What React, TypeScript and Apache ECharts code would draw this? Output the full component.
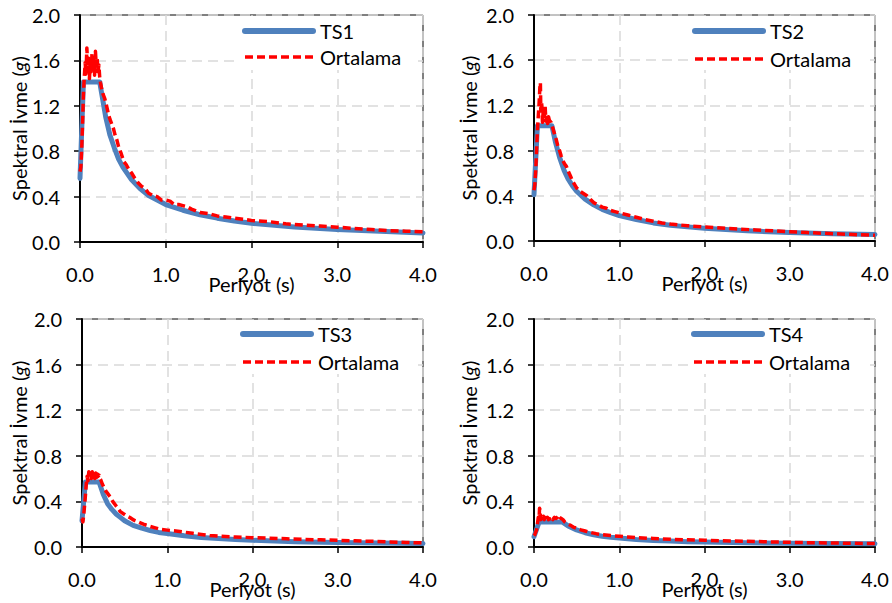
import React, { useEffect, useRef } from "react";
import * as echarts from "echarts";

// ---------- data ----------
const xAxisTitle = "Periyot (s)";
const yAxisTitleParts = ["Spektral İvme (", "g", ")"];
const meanName = "Ortalama";
const targetNames = ["TS1", "TS2", "TS3", "TS4"];

// TS1 target spectrum
const ts1T = [0, 0.04, 0.23, 0.25, 0.3, 0.35, 0.4, 0.45, 0.5, 0.6, 0.7, 0.8, 0.9, 1.0, 1.2, 1.4, 1.6, 1.8, 2.0, 2.5, 3.0, 3.5, 4.0];
const ts1Sa = [0.56, 1.41, 1.41, 1.32, 1.1, 0.94, 0.83, 0.73, 0.66, 0.55, 0.47, 0.41, 0.37, 0.33, 0.28, 0.24, 0.21, 0.185, 0.165, 0.132, 0.11, 0.094, 0.08];
// TS1 mean
const m1T = [0, 0.01, 0.02, 0.03, 0.04, 0.05, 0.06, 0.07, 0.08, 0.09, 0.1, 0.11, 0.12, 0.13, 0.14, 0.15, 0.16, 0.17, 0.18, 0.19, 0.2, 0.21, 0.22, 0.23, 0.24, 0.25, 0.27, 0.29, 0.31, 0.33, 0.35, 0.37, 0.39, 0.41, 0.43, 0.45, 0.48, 0.51, 0.54, 0.57, 0.6, 0.64, 0.68, 0.72, 0.76, 0.8, 0.85, 0.9, 0.95, 1.0, 1.05, 1.1, 1.15, 1.2, 1.25, 1.3, 1.4, 1.5, 1.6, 1.7, 1.8, 1.9, 2.0, 2.2, 2.4, 2.6, 2.8, 3.0, 3.2, 3.4, 3.6, 3.8, 4.0];
const m1Sa = [0.62, 0.66, 0.82, 1.05, 1.3, 1.45, 1.58, 1.48, 1.71, 1.55, 1.62, 1.44, 1.58, 1.5, 1.66, 1.52, 1.6, 1.47, 1.68, 1.55, 1.62, 1.5, 1.56, 1.45, 1.4, 1.36, 1.3, 1.26, 1.2, 1.13, 1.08, 1.04, 1.0, 0.94, 0.9, 0.84, 0.78, 0.71, 0.68, 0.64, 0.61, 0.56, 0.52, 0.49, 0.47, 0.43, 0.41, 0.4, 0.37, 0.37, 0.36, 0.33, 0.33, 0.32, 0.31, 0.29, 0.26, 0.25, 0.23, 0.22, 0.21, 0.2, 0.19, 0.18, 0.16, 0.15, 0.14, 0.13, 0.12, 0.11, 0.1, 0.095, 0.09];

// TS2 target spectrum
const ts2T = [0, 0.04, 0.21, 0.25, 0.3, 0.35, 0.4, 0.45, 0.5, 0.6, 0.7, 0.8, 0.9, 1.0, 1.2, 1.4, 1.6, 1.8, 2.0, 2.5, 3.0, 3.5, 4.0];
const ts2Sa = [0.41, 1.02, 1.02, 0.88, 0.74, 0.63, 0.55, 0.49, 0.44, 0.37, 0.32, 0.28, 0.25, 0.225, 0.19, 0.16, 0.14, 0.125, 0.113, 0.09, 0.075, 0.065, 0.058];
// TS2 mean
const m2T = [0, 0.01, 0.02, 0.03, 0.04, 0.05, 0.06, 0.07, 0.075, 0.08, 0.09, 0.1, 0.11, 0.12, 0.13, 0.14, 0.15, 0.16, 0.17, 0.18, 0.19, 0.2, 0.22, 0.24, 0.26, 0.28, 0.3, 0.32, 0.34, 0.36, 0.38, 0.4, 0.43, 0.46, 0.5, 0.54, 0.58, 0.62, 0.66, 0.7, 0.75, 0.8, 0.85, 0.9, 0.95, 1.0, 1.1, 1.2, 1.3, 1.4, 1.5, 1.6, 1.8, 2.0, 2.2, 2.4, 2.6, 2.8, 3.0, 3.2, 3.4, 3.6, 3.8, 4.0];
const m2Sa = [0.45, 0.5, 0.62, 0.8, 0.98, 1.1, 1.22, 1.38, 1.4, 1.15, 1.22, 1.05, 1.18, 1.08, 1.2, 1.06, 1.12, 1.04, 1.1, 1.07, 1.06, 1.05, 1.0, 0.95, 0.9, 0.84, 0.8, 0.75, 0.71, 0.68, 0.66, 0.62, 0.57, 0.52, 0.47, 0.44, 0.42, 0.4, 0.37, 0.34, 0.32, 0.3, 0.29, 0.27, 0.26, 0.25, 0.23, 0.21, 0.19, 0.175, 0.16, 0.15, 0.135, 0.125, 0.115, 0.105, 0.098, 0.09, 0.082, 0.075, 0.068, 0.062, 0.056, 0.05];

// TS3 target spectrum
const ts3T = [0, 0.04, 0.2, 0.25, 0.3, 0.35, 0.4, 0.45, 0.5, 0.6, 0.7, 0.8, 0.9, 1.0, 1.2, 1.4, 1.6, 1.8, 2.0, 2.5, 3.0, 3.5, 4.0];
const ts3Sa = [0.23, 0.57, 0.57, 0.46, 0.38, 0.33, 0.29, 0.26, 0.23, 0.19, 0.165, 0.145, 0.128, 0.118, 0.098, 0.084, 0.074, 0.066, 0.059, 0.047, 0.04, 0.034, 0.03];
// TS3 mean
const m3T = [0, 0.01, 0.02, 0.03, 0.04, 0.05, 0.06, 0.07, 0.08, 0.09, 0.1, 0.11, 0.12, 0.13, 0.14, 0.15, 0.16, 0.17, 0.18, 0.19, 0.2, 0.21, 0.22, 0.24, 0.26, 0.28, 0.3, 0.33, 0.36, 0.39, 0.42, 0.45, 0.49, 0.53, 0.57, 0.61, 0.66, 0.72, 0.78, 0.85, 0.92, 1.0, 1.1, 1.2, 1.3, 1.4, 1.5, 1.6, 1.8, 2.0, 2.2, 2.4, 2.6, 2.8, 3.0, 3.2, 3.4, 3.6, 3.8, 4.0];
const m3Sa = [0.25, 0.22, 0.28, 0.36, 0.45, 0.55, 0.62, 0.58, 0.66, 0.61, 0.65, 0.6, 0.66, 0.62, 0.64, 0.6, 0.65, 0.61, 0.64, 0.62, 0.63, 0.6, 0.59, 0.55, 0.52, 0.49, 0.47, 0.44, 0.4, 0.37, 0.34, 0.31, 0.29, 0.27, 0.255, 0.235, 0.22, 0.2, 0.185, 0.17, 0.155, 0.148, 0.14, 0.13, 0.12, 0.11, 0.1, 0.095, 0.088, 0.082, 0.077, 0.072, 0.067, 0.063, 0.059, 0.054, 0.05, 0.045, 0.04, 0.036];

// TS4 target spectrum
const ts4T = [0, 0.06, 0.33, 0.4, 0.5, 0.6, 0.7, 0.8, 0.9, 1.0, 1.2, 1.4, 1.6, 1.8, 2.0, 2.5, 3.0, 3.5, 4.0];
const ts4Sa = [0.09, 0.22, 0.22, 0.185, 0.15, 0.125, 0.108, 0.095, 0.085, 0.078, 0.066, 0.058, 0.052, 0.047, 0.043, 0.037, 0.033, 0.03, 0.028];
// TS4 mean
const m4T = [0, 0.01, 0.02, 0.03, 0.04, 0.05, 0.06, 0.065, 0.07, 0.075, 0.08, 0.09, 0.1, 0.11, 0.12, 0.13, 0.14, 0.15, 0.16, 0.17, 0.18, 0.19, 0.2, 0.22, 0.24, 0.26, 0.28, 0.29, 0.3, 0.32, 0.34, 0.36, 0.38, 0.4, 0.43, 0.46, 0.5, 0.55, 0.6, 0.66, 0.73, 0.8, 0.9, 1.0, 1.1, 1.2, 1.4, 1.6, 1.8, 2.0, 2.3, 2.6, 3.0, 3.3, 3.6, 4.0];
const m4Sa = [0.1, 0.11, 0.13, 0.15, 0.2, 0.26, 0.25, 0.34, 0.33, 0.26, 0.24, 0.26, 0.25, 0.27, 0.24, 0.26, 0.25, 0.23, 0.26, 0.24, 0.25, 0.23, 0.25, 0.24, 0.26, 0.25, 0.27, 0.28, 0.26, 0.25, 0.24, 0.22, 0.21, 0.2, 0.19, 0.175, 0.165, 0.15, 0.14, 0.128, 0.117, 0.108, 0.1, 0.094, 0.088, 0.082, 0.075, 0.068, 0.063, 0.059, 0.053, 0.048, 0.041, 0.037, 0.034, 0.03];

const targetsT = [ts1T, ts2T, ts3T, ts4T];
const targetsSa = [ts1Sa, ts2Sa, ts3Sa, ts4Sa];
const meansT = [m1T, m2T, m3T, m4T];
const meansSa = [m1Sa, m2Sa, m3Sa, m4Sa];

// ---------- layout ----------
const FONT = "Lato";
const FS = 20;
const BLUE = "#4F81BD";
const RED = "#FF0000";

const grids = [
  { left: 80, top: 15, width: 343, height: 227 },
  { left: 534, top: 15, width: 341, height: 226 },
  { left: 82, top: 319, width: 341, height: 228 },
  { left: 534, top: 319, width: 341, height: 228 },
];
const yNameGaps = [51, 55, 53, 55];
// legend: line start x, row1 y, row2 y, background left/top
const legendLayout = [
  { x: 245, y1: 31, y2: 57, bx: 240, by: 16 },
  { x: 695, y1: 31, y2: 59, bx: 691, by: 16 },
  { x: 243, y1: 334, y2: 362, bx: 239, by: 320 },
  { x: 694, y1: 334, y2: 362, bx: 690, by: 320 },
];

const zip = (a: number[], b: number[]) => a.map((v, i) => [v, b[i]]);

export default function App() {
  const ref = useRef<HTMLDivElement>(null);
  useEffect(() => {
    document.body.style.margin = "0";
    const chart = echarts.init(ref.current!, null, { renderer: "svg" });
    const textBase = { fontFamily: FONT, fontSize: FS, color: "#000" };

    const legendGraphics: any[] = [];
    legendLayout.forEach((L, i) => {
      legendGraphics.push({
        type: "rect",
        shape: { x: L.bx, y: L.by, width: 178, height: 54 },
        style: { fill: "#fff" },
        z: 10,
      });
      legendGraphics.push({
        type: "line",
        shape: { x1: L.x, y1: L.y1, x2: L.x + 68, y2: L.y1 },
        style: { stroke: BLUE, lineWidth: 6, lineCap: "round" },
        z: 11,
      });
      legendGraphics.push({
        type: "text",
        x: L.x + 75,
        y: L.y1,
        style: { text: targetNames[i], font: `${FS}px ${FONT}`, fill: "#000", verticalAlign: "middle", align: "left" },
        z: 11,
      });
      legendGraphics.push({
        type: "line",
        shape: { x1: L.x, y1: L.y2, x2: L.x + 70, y2: L.y2 },
        style: { stroke: RED, lineWidth: 3.5, lineDash: [8, 4] },
        z: 11,
      });
      legendGraphics.push({
        type: "text",
        x: L.x + 75,
        y: L.y2,
        style: { text: meanName, font: `${FS}px ${FONT}`, fill: "#000", verticalAlign: "middle", align: "left" },
        z: 11,
      });
    });

    const option: any = {
      animation: false,
      backgroundColor: "#fff",
      grid: grids.map((g) => ({
        ...g,
        show: true,
        borderColor: "#000",
        borderWidth: 1,
        backgroundColor: "transparent",
        containLabel: false,
      })),
      xAxis: grids.map((_, i) => ({
        type: "value",
        gridIndex: i,
        min: 0,
        max: 4,
        interval: 1,
        name: xAxisTitle,
        nameLocation: "middle",
        nameGap: 32,
        nameMoveOverlap: false,
        nameTextStyle: { ...textBase },
        axisLine: { show: true, onZero: false, lineStyle: { color: "#000", width: 2 } },
        axisTick: { show: true, length: 6, inside: false, lineStyle: { color: "#000", width: 1.5 } },
        axisLabel: { ...textBase, margin: 22, formatter: (v: number) => v.toFixed(1) },
        splitLine: { show: true, lineStyle: { color: "#d9d9d9", width: 1.5, type: [10, 6] } },
      })),
      yAxis: grids.map((_, i) => ({
        type: "value",
        gridIndex: i,
        min: 0,
        max: 2,
        interval: 0.4,
        name: `{n|${yAxisTitleParts[0]}}{i|${yAxisTitleParts[1]}}{n|${yAxisTitleParts[2]}}`,
        nameLocation: "middle",
        nameGap: yNameGaps[i],
        nameRotate: 90,
        nameMoveOverlap: false,
        nameTextStyle: {
          ...textBase,
          rich: {
            n: { ...textBase },
            i: { ...textBase, fontStyle: "italic" },
          },
        },
        axisLine: { show: true, onZero: false, lineStyle: { color: "#000", width: 2 } },
        axisTick: { show: true, length: 6, inside: false, lineStyle: { color: "#000", width: 1.5 } },
        axisLabel: { ...textBase, margin: 20, formatter: (v: number) => v.toFixed(1) },
        splitLine: { show: true, lineStyle: { color: "#d9d9d9", width: 1.5, type: [10, 6] } },
      })),
      graphic: legendGraphics,
      series: [
        ...grids.map((_, i) => ({
          type: "line",
          name: targetNames[i],
          xAxisIndex: i,
          yAxisIndex: i,
          data: zip(targetsT[i], targetsSa[i]),
          showSymbol: false,
          symbol: "none",
          smooth: false,
          lineStyle: { color: BLUE, width: 5, cap: "round", join: "round" },
          itemStyle: { color: BLUE },
          z: 2,
        })),
        ...grids.map((_, i) => ({
          type: "line",
          name: meanName,
          xAxisIndex: i,
          yAxisIndex: i,
          data: zip(meansT[i], meansSa[i]),
          showSymbol: false,
          symbol: "none",
          smooth: false,
          lineStyle: { color: RED, width: 3.5, type: [8, 4], join: "round" },
          itemStyle: { color: RED },
          z: 3,
        })),
      ],
    };
    chart.setOption(option);
    return () => chart.dispose();
  }, []);
  return (
    <div
      ref={ref}
      style={{ position: "absolute", left: 0, top: 0, width: 892, height: 603 }}
    />
  );
}
